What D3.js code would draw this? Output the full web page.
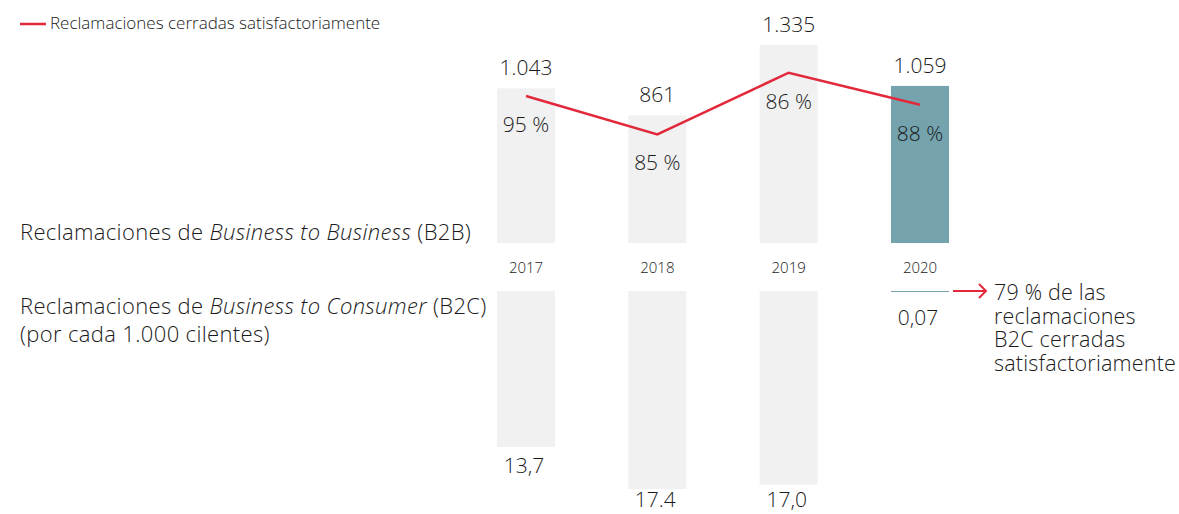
<!DOCTYPE html>
<html>
<head>
<style>
  body { margin: 0; background: #fff; }
  svg text { font-family: "Open Sans", sans-serif; fill: #1a1a1a; font-weight: 300; }
</style>
</head>
<body>

<script src="https://d3js.org/d3.v7.min.js"></script>
<script>

const width = 1179;
const height = 514;

const years = ['2017', '2018', '2019', '2020'];
const b2b = [1043, 861, 1335, 1059];
const b2bLabels = ['1.043', '861', '1.335', '1.059'];
const closedPct = [95, 85, 86, 88];
const b2c = [13.7, 17.4, 17.0, 0.07];
const b2cLabels = ['13,7', '17.4', '17,0', '0,07'];
const noteLines = ['79 % de las', 'reclamaciones', 'B2C cerradas', 'satisfactoriamente'];

const grey = '#f0f1f0';
const teal = '#74a3ae';
const red = '#e2283b';

const svg = d3.select('body')
              .append('svg')
              .attr('width', width)
              .attr('height', height);

const x = d3.scalePoint()
            .domain(years)
            .range([526, 920]);
const barW = 58;

const yTop = d3.scaleLinear()
               .domain([0, d3.max(b2b)])
               .range([243, 45]);

const yBot = d3.scaleLinear()
               .domain([0, d3.max(b2c)])
               .range([291, 489]);

const fill = (d, i) => i === years.length - 1 ? teal : grey;

// B2B bars
svg.selectAll('rect.b2b')
   .data(b2b)
   .enter()
   .append('rect')
   .attr('class', 'b2b')
   .attr('x', (d, i) => x(years[i]) - barW / 2)
   .attr('y', d => yTop(d))
   .attr('width', barW)
   .attr('height', d => yTop(0) - yTop(d))
   .attr('fill', fill);

svg.selectAll('text.b2b')
   .data(b2bLabels)
   .enter()
   .append('text')
   .attr('class', 'b2b')
   .attr('x', (d, i) => x(years[i]))
   .attr('y', (d, i) => yTop(b2b[i]) - 13)
   .attr('text-anchor', 'middle')
   .attr('font-size', 21)
   .text(d => d);

// closed satisfactorily line, drawn as share of each bar
const linePts = b2b.map((v, i) => [x(years[i]), yTop(v * closedPct[i] / 100)]);

svg.append('path')
   .attr('d', d3.line()(linePts))
   .attr('fill', 'none')
   .attr('stroke', red)
   .attr('stroke-width', 2.5);

svg.selectAll('text.pct')
   .data(closedPct)
   .enter()
   .append('text')
   .attr('class', 'pct')
   .attr('x', (d, i) => linePts[i][0])
   .attr('y', (d, i) => linePts[i][1] + 36)
   .attr('text-anchor', 'middle')
   .attr('font-size', 21)
   .text(d => d + ' %');

// years
svg.selectAll('text.year')
   .data(years)
   .enter()
   .append('text')
   .attr('class', 'year')
   .attr('x', d => x(d))
   .attr('y', 273)
   .attr('text-anchor', 'middle')
   .attr('font-size', 15)
   .text(d => d);

// B2C bars
svg.selectAll('rect.b2c')
   .data(b2c)
   .enter()
   .append('rect')
   .attr('class', 'b2c')
   .attr('x', (d, i) => x(years[i]) - barW / 2)
   .attr('y', yBot(0))
   .attr('width', barW)
   .attr('height', d => Math.max(1, yBot(d) - yBot(0)))
   .attr('fill', fill);

svg.selectAll('text.b2c')
   .data(b2cLabels)
   .enter()
   .append('text')
   .attr('class', 'b2c')
   .attr('x', (d, i) => x(years[i]) - 2)
   .attr('y', (d, i) => Math.min(yBot(b2c[i]) + 26 + (b2c[i] < 1 ? 7 : 0), 507))
   .attr('text-anchor', 'middle')
   .attr('font-size', 21)
   .text(d => d);

// arrow + note for 2020
const ax = x('2020') + barW / 2 + 4;
const ay = yBot(0);
svg.append('line')
   .attr('x1', ax).attr('y1', ay)
   .attr('x2', ax + 33).attr('y2', ay)
   .attr('stroke', red).attr('stroke-width', 2);
svg.append('path')
   .attr('d', `M${ax + 26},${ay - 7}L${ax + 33},${ay}L${ax + 26},${ay + 7}`)
   .attr('fill', 'none')
   .attr('stroke', red).attr('stroke-width', 2);

svg.append('text')
   .attr('x', ax + 41)
   .attr('y', 300)
   .attr('font-size', 21.5)
   .attr('letter-spacing', 0.2)
   .selectAll('tspan')
   .data(noteLines)
   .enter()
   .append('tspan')
   .attr('x', ax + 41)
   .attr('dy', (d, i) => i ? 23.7 : 0)
   .text(d => d);

// row titles
const t1 = svg.append('text').attr('x', 20).attr('y', 240)
              .attr('font-size', 22).attr('letter-spacing', 0.35);
t1.append('tspan').text('Reclamaciones de ');
t1.append('tspan').attr('font-style', 'italic').text('Business to Business');
t1.append('tspan').text(' (B2B)');

const t2 = svg.append('text').attr('x', 20).attr('y', 314)
              .attr('font-size', 22).attr('letter-spacing', 0.35);
t2.append('tspan').text('Reclamaciones de ');
t2.append('tspan').attr('font-style', 'italic').text('Business to Consumer');
t2.append('tspan').text(' (B2C)');

svg.append('text').attr('x', 20).attr('y', 342)
   .attr('font-size', 22).attr('letter-spacing', 0.35)
   .text('(por cada 1.000 cilentes)');

// legend
svg.append('line')
   .attr('x1', 20).attr('y1', 24)
   .attr('x2', 46).attr('y2', 24)
   .attr('stroke', red).attr('stroke-width', 2.5);
svg.append('text')
   .attr('x', 50).attr('y', 29)
   .attr('font-size', 17)
   .text('Reclamaciones cerradas satisfactoriamente');

</script>
</body>
</html>
